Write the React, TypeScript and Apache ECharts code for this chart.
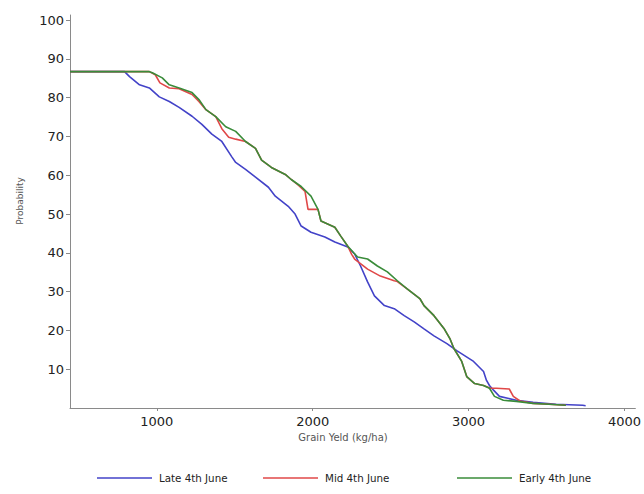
import React, { useEffect, useRef } from "react";
import * as echarts from "echarts";

const seriesNames = ["Late 4th June", "Mid 4th June", "Early 4th June"];
const seriesColors = ["#4343c8", "#e04848", "#3a8c3a"];

// [grain yield kg/ha, probability %]
const lateData: [number, number][] = [
  [443, 86.7], [793, 86.7], [825, 85.4], [889, 83.3], [952, 82.5], [1016, 80.2],
  [1080, 79.0], [1143, 77.5], [1226, 75.2], [1289, 73.1], [1353, 70.6], [1417, 68.7],
  [1480, 64.8], [1506, 63.3], [1569, 61.5], [1633, 59.5], [1716, 56.9], [1760, 54.6],
  [1843, 52.0], [1887, 50.0], [1926, 46.9], [1989, 45.3], [2078, 44.1], [2142, 42.8],
  [2225, 41.5], [2269, 39.7], [2307, 36.6], [2352, 32.5], [2396, 28.9], [2460, 26.4],
  [2523, 25.6], [2587, 23.8], [2651, 22.2], [2714, 20.4], [2778, 18.6], [2861, 16.6],
  [2924, 14.8], [3032, 12.0], [3096, 9.4], [3115, 7.1], [3134, 5.8], [3160, 4.6],
  [3198, 3.0], [3306, 2.0], [3414, 1.5], [3560, 0.95], [3732, 0.7], [3751, 0.6],
];

const midData: [number, number][] = [
  [443, 86.7], [952, 86.7], [990, 85.9], [1020, 83.8], [1080, 82.5], [1143, 82.3],
  [1226, 80.8], [1270, 79.0], [1315, 76.9], [1378, 75.1], [1417, 72.0], [1461, 69.8],
  [1506, 69.3], [1569, 68.7], [1633, 66.9], [1672, 63.9], [1735, 62.0], [1824, 60.2],
  [1862, 58.9], [1906, 57.5], [1951, 55.8], [1970, 51.2], [2034, 51.2], [2053, 48.2],
  [2142, 46.6], [2180, 44.3], [2225, 41.7], [2250, 39.6], [2269, 38.4], [2352, 35.8],
  [2434, 34.0], [2523, 32.8], [2543, 32.6], [2606, 30.7], [2689, 28.1], [2714, 26.4],
  [2778, 23.8], [2842, 20.5], [2880, 17.9], [2905, 15.4], [2956, 12.0], [2988, 8.1],
  [3039, 6.3], [3096, 5.8], [3140, 5.1], [3179, 5.1], [3261, 4.9], [3287, 3.0],
  [3330, 1.8], [3414, 1.2], [3516, 0.95], [3624, 0.7],
];

const earlyData: [number, number][] = [
  [443, 86.7], [952, 86.7], [971, 86.4], [1035, 85.1], [1080, 83.3], [1143, 82.5],
  [1226, 81.3], [1270, 79.5], [1315, 76.9], [1378, 75.1], [1442, 72.5], [1506, 71.3],
  [1569, 68.7], [1633, 66.9], [1672, 63.9], [1735, 62.0], [1824, 60.2], [1862, 58.9],
  [1926, 57.1], [1989, 54.6], [2034, 51.2], [2053, 48.2], [2142, 46.6], [2180, 44.3],
  [2225, 41.7], [2263, 40.0], [2288, 38.9], [2352, 38.4], [2415, 36.6], [2479, 35.1],
  [2543, 32.8], [2606, 30.7], [2689, 28.1], [2714, 26.4], [2778, 23.8], [2842, 20.5],
  [2880, 17.9], [2905, 15.4], [2956, 12.0], [2988, 8.1], [3039, 6.3], [3096, 5.8],
  [3134, 5.1], [3166, 3.0], [3223, 2.0], [3306, 1.7], [3414, 1.2], [3516, 0.95],
  [3624, 0.7],
];

const xTicks = [1000, 2000, 3000, 4000];
const yTicks = [10, 20, 30, 40, 50, 60, 70, 80, 90, 100];

const xTitle = "Grain Yeld (kg/ha)";
const yTitle = "Probability";

export default function App() {
  const ref = useRef<HTMLDivElement>(null);
  useEffect(() => {
    if (!ref.current) return;
    const chart = echarts.init(ref.current, null, { renderer: "svg" });
    const font = "DejaVu Sans";
    const allData = [lateData, midData, earlyData];
    const legendLefts = [97, 263, 457];
    chart.setOption({
      animation: false,
      backgroundColor: "#ffffff",
      grid: { left: 70, right: 4, top: 15, bottom: 86 },
      xAxis: {
        type: "value",
        min: 443,
        max: 4070,
        axisLine: { show: true, lineStyle: { color: "#8a8a8a", width: 1 } },
        axisTick: { show: true, length: 3, customValues: xTicks, lineStyle: { color: "#8a8a8a" } },
        axisLabel: {
          customValues: xTicks,
          formatter: (v: number) => String(v),
          fontFamily: font,
          fontSize: 13,
          color: "#222",
          margin: 7,
        },
        splitLine: { show: false },
      },
      yAxis: {
        type: "value",
        min: 0,
        max: 101.3,
        axisLine: { show: true, lineStyle: { color: "#8a8a8a", width: 1 } },
        axisTick: { show: true, length: 4, customValues: yTicks, lineStyle: { color: "#8a8a8a" } },
        axisLabel: {
          customValues: yTicks,
          formatter: (v: number) => String(v),
          fontFamily: font,
          fontSize: 13,
          color: "#222",
          margin: 6,
        },
        splitLine: { show: false },
      },
      legend: seriesNames.map((n, i) => ({
        data: [n],
        left: legendLefts[i],
        top: 473,
        padding: 0,
        icon: "rect",
        itemWidth: 55,
        itemHeight: 1.6,
        itemGap: 0,
        textStyle: { fontFamily: font, fontSize: 10.3, color: "#222", padding: [0, 0, 0, 2] },
      })),
      graphic: [
        {
          type: "text",
          x: 20,
          y: 201,
          rotation: Math.PI / 2,
          style: { text: yTitle, fontFamily: font, fontSize: 9, fill: "#555", align: "center", verticalAlign: "middle" },
        },
        {
          type: "text",
          x: 343,
          y: 437,
          style: { text: xTitle, fontFamily: font, fontSize: 10, fill: "#555", align: "center", verticalAlign: "middle" },
        },
      ],
      series: seriesNames.map((n, i) => ({
        name: n,
        type: "line",
        data: allData[i],
        symbol: "none",
        showSymbol: false,
        lineStyle: { color: seriesColors[i], width: 1.6 },
        itemStyle: { color: seriesColors[i] },
        z: 2 + i,
      })),
    });
    return () => chart.dispose();
  }, []);
  return (
    <div
      ref={ref}
      style={{ position: "absolute", left: 0, top: 0, width: 644, height: 494 }}
    />
  );
}
